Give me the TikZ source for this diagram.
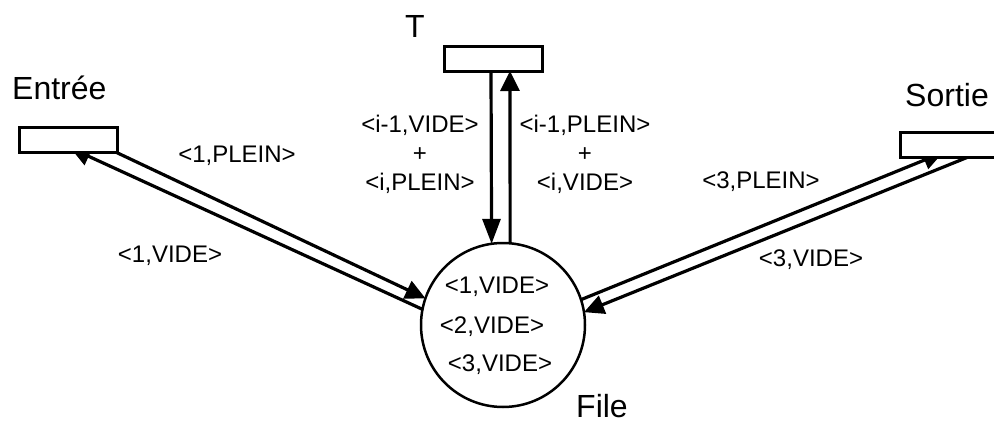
\documentclass[tikz,border=0pt]{standalone}
\usepackage{fontspec}
\setmainfont{Liberation Sans}
\usetikzlibrary{arrows.meta,calc,backgrounds}
\begin{document}
\begin{tikzpicture}[x=1pt,y=-1pt,
  boxnode/.style={draw,line width=3pt,fill=white,minimum width=98pt,minimum height=25pt,inner sep=0pt,outer sep=0pt},
  placenode/.style={draw,circle,line width=2.5pt,minimum size=164pt,inner sep=0pt,outer sep=0pt},
  arc/.style={line width=3.2pt,-{Triangle[length=20pt,width=19pt]}},
  longarc/.style={line width=3.2pt,-{Triangle[length=25pt,width=18pt]}},
  lbl/.style={font=\fontsize{24}{29}\selectfont,inner sep=0pt,align=center},
  title/.style={font=\fontsize{32}{38}\selectfont,inner sep=0pt}]
\useasboundingbox (0,0) rectangle (994,423);

% places / transitions
\node[boxnode] (E) at (68.5,139.5) {};
\node[boxnode] (T) at (493,58.5) {};
\node[boxnode,minimum width=100pt] (S) at (950,145) {};
\node[placenode] (F) at (503,325) {};

% titles
\node[title,anchor=base west] (tE) at (12,99) {Entrée};
\node[title,anchor=base] (tT) at (415,37) {T};
\node[title,anchor=base west] (tS) at (905,106) {Sortie};
\node[title,anchor=base] (tF) at (602,417) {File};

% arc labels
\node[lbl] (l1p) at (237,156) {<1,PLEIN>};
\node[lbl] (l1v) at (170,256) {<1,VIDE>};
\node[lbl] (lTl) at (420,154) {<i-1,VIDE>\\+\\<i,PLEIN>};
\node[lbl] (lTr) at (585,154) {<i-1,PLEIN>\\+\\<i,VIDE>};
\node[lbl] (l3p) at (761,182) {<3,PLEIN>};
\node[lbl] (l3v) at (811,260) {<3,VIDE>};

% marking of File
\node[lbl] (f1) at (497,287) {<1,VIDE>};
\node[lbl] (f2) at (492,327) {<2,VIDE>};
\node[lbl] (f3) at (500,365) {<3,VIDE>};

% connector end points
\coordinate (eOut) at ($(E.south east)+(-2,0)$);
\coordinate (eIn) at ($(E.south)+(2,-4)$);
\coordinate (tDown) at ($(T.south)+(-2,0)$);
\coordinate (tUp) at ($(T.south)+(17,0)$);
\coordinate (sIn) at ($(S.south)+(-7,-5)$);
\coordinate (sOut) at ($(S.south)+(17,0)$);

\begin{scope}[on background layer]
\draw[arc] (eOut) -- (F.161);
\draw[arc] (F.169) -- (eIn);
\draw[longarc] (tDown) -- (F.98);
\draw[arc] (F.85) -- (tUp);
\draw[arc] (F.18) -- (sIn);
\draw[arc] (sOut) -- (F.9);
\end{scope}
\end{tikzpicture}
\end{document}
